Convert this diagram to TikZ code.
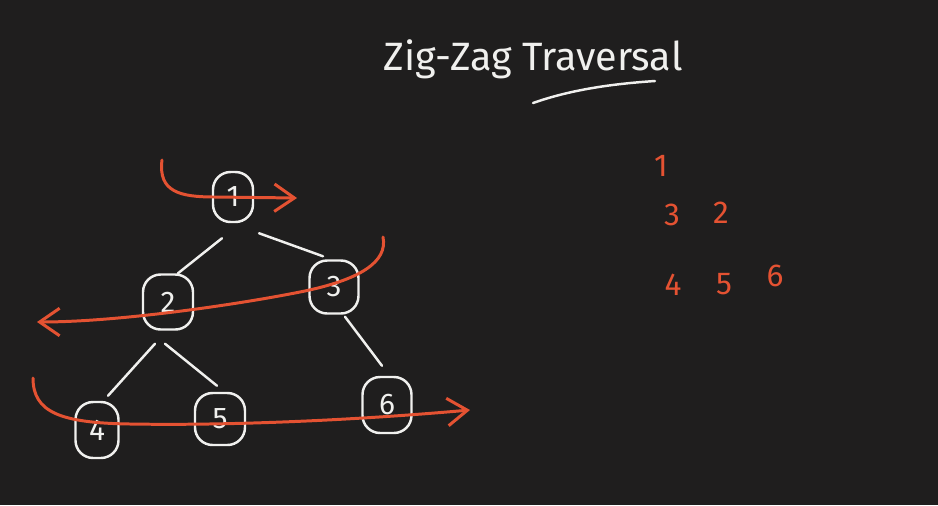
\documentclass[tikz,border=0pt]{standalone}
\usepackage{fontspec}
\setmainfont{Fira Sans}
\usepackage{tikz}
\usetikzlibrary{arrows.meta,calc}

\definecolor{board}{RGB}{31,30,30}
\definecolor{chalk}{RGB}{240,240,238}
\definecolor{marker}{RGB}{228,82,50}

\begin{document}
\begin{tikzpicture}[
  x=0.02cm,y=-0.02cm,
  treenode/.style={draw=chalk, line width=1.4pt, rounded corners=10pt, text=chalk, font=\fontsize{17}{17}\selectfont, inner sep=0pt},
  edge/.style={draw=chalk, line width=1.4pt, line cap=round},
  sweep/.style={draw=marker, line width=1.7pt, line cap=round, -{Straight Barb[length=4mm, width=5.5mm, line width=1.7pt]}},
  order/.style={text=marker, font=\fontsize{18}{18}\selectfont}
]
\fill[board] (0,0) rectangle (938,505);
\useasboundingbox (0,0) rectangle (938,505);

\node[font=\fontsize{22.5}{22.5}\selectfont, text=chalk, anchor=base] (title) at (533,70) {Zig-Zag Traversal};
\draw[edge] (533,103) .. controls (570,90) and (610,84) .. (655,81);

\node[treenode, minimum width=0.8cm, minimum height=1.0cm] (n1) at (233,197) {1};
\node[treenode, minimum width=1.0cm, minimum height=1.1cm] (n2) at (168,302) {2};
\node[treenode, minimum width=0.98cm, minimum height=1.06cm] (n3) at (334,287) {3};
\node[treenode, minimum width=0.86cm, minimum height=1.12cm] (n4) at (97,430) {4};
\node[treenode, minimum width=1.0cm, minimum height=1.04cm] (n5) at (220,419) {5};
\node[treenode, minimum width=0.98cm, minimum height=1.12cm] (n6) at (387,405) {6};

\draw[edge] ($(n1.south)+(-11,15)$) -- ($(n2.north)+(10,0)$);
\draw[edge] ($(n1.south)+(26,10)$) -- ($(n3.north)+(-11,-3)$);
\draw[edge] ($(n2.south)+(-13,13)$) -- ($(n4.north)+(11,-5)$);
\draw[edge] ($(n2.south)+(-3,13)$) -- ($(n5.north)+(-3,-6)$);
\draw[edge] ($(n3.south)+(11,2)$) -- ($(n6.north)+(-5,-10)$);

\draw[sweep] (162,160) .. controls (158,192) and (180,197) .. (215,197) -- (297,198);
\draw[sweep] (383,237) .. controls (388,262) and (360,280) .. (300,292) .. controls (240,304) and (120,322) .. (37,322);
\draw[sweep] (33,378) .. controls (33,412) and (60,423) .. (130,424) .. controls (250,426) and (380,418) .. (470,410);

\node[order] (o1) at (661,166) {1};
\node[order] (o3) at (672,215) {3};
\node[order] (o2) at (721,213) {2};
\node[order] (o4) at (673,285) {4};
\node[order] (o5) at (724,284) {5};
\node[order] (o6) at (775,276) {6};
\end{tikzpicture}
\end{document}
